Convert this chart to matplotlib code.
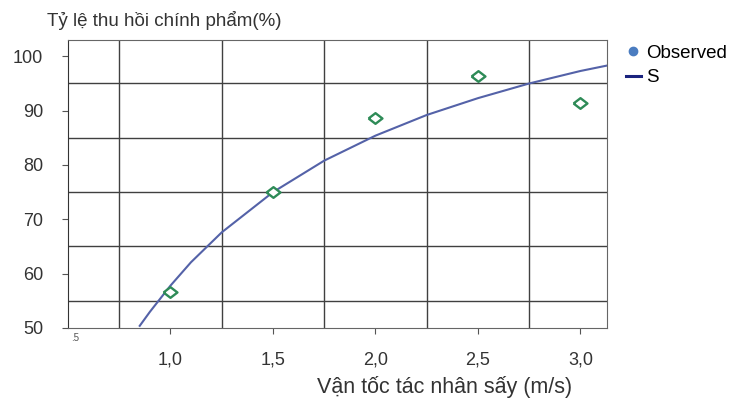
import matplotlib
matplotlib.use('Agg')
from matplotlib import pyplot as plt
from matplotlib.lines import Line2D

plt.rcParams['font.family'] = ['Liberation Sans', 'DejaVu Sans']

# observed points
obs_x = [1.0, 1.5, 2.0, 2.5, 3.0]
obs_y = [56.6, 75.0, 88.7, 96.4, 91.4]

# S model curve
curve_x = [0.85, 0.9, 1.0, 1.1, 1.25, 1.5, 1.75, 2.0, 2.25, 2.5, 2.75, 3.0, 3.13]
curve_y = [50.4, 53.0, 57.8, 62.1, 67.6, 75.0, 80.8, 85.4, 89.2, 92.3, 95.0, 97.3, 98.3]

xticks = [1.0, 1.5, 2.0, 2.5, 3.0]
xticklabels = ['1,0', '1,5', '2,0', '2,5', '3,0']
yticks = [50, 60, 70, 80, 90, 100]
xgrid = [0.75, 1.25, 1.75, 2.25, 2.75]
ygrid = [55, 65, 75, 85, 95]

# flat diamond, wider than tall
flat_diamond = [(-1.3, 0), (0, 1), (1.3, 0), (0, -1), (-1.3, 0)]

fig = plt.figure(figsize=(7.35, 4), dpi=100)
ax = fig.add_axes([0.0925, 0.18, 0.7335, 0.72])

ax.plot(curve_x, curve_y, color='#5462a8', lw=1.5, zorder=3)
ax.plot(obs_x, obs_y, linestyle='none', marker=flat_diamond, ms=10, mfc='white',
        mec='#2e8b57', mew=1.7, zorder=4)

ax.set_xlim(0.5, 3.13)
ax.set_ylim(50, 103)

for g in xgrid:
    ax.axvline(g, color='#404040', lw=1, zorder=1)
for g in ygrid:
    ax.axhline(g, color='#404040', lw=1, zorder=1)

ax.set_xticks(xticks)
ax.set_xticklabels(xticklabels, fontsize=13, color='#333333')
ax.set_yticks(yticks)
ax.set_yticklabels([str(v) for v in yticks], fontsize=13, color='#333333')
ax.tick_params(axis='x', direction='out', length=4, pad=13, color='#555555')
ax.tick_params(axis='y', direction='out', length=4, pad=14, color='#555555')

for s in ['top', 'right', 'bottom']:
    ax.spines[s].set_color('#666666')
ax.spines['left'].set_color('#333333')

fig.text(0.097, 0.148, '.5', fontsize=7, color='#555555')
fig.text(445 / 735, 1 - 387 / 400, 'Vận tốc tác nhân sấy (m/s)', fontsize=15.5,
         color='#333333', ha='center', va='center')
fig.text(47 / 735, 1 - 20 / 400, 'Tỷ lệ thu hồi chính phẩm(%)', fontsize=13.5,
         color='#333333', va='center')

handles = [Line2D([], [], linestyle='none', marker='o', ms=6, mfc='#4a7cc0', mec='#4a7cc0'),
           Line2D([], [], color='#1a237e', lw=2.2)]
fig.legend(handles, ['Observed', 'S'], loc='upper left', bbox_to_anchor=(0.846, 0.8975),
           frameon=False, fontsize=13.5, handlelength=0.8, handletextpad=0.3,
           labelspacing=0.4, borderpad=0.2, borderaxespad=0)

fig.savefig('out.png', dpi=100)
